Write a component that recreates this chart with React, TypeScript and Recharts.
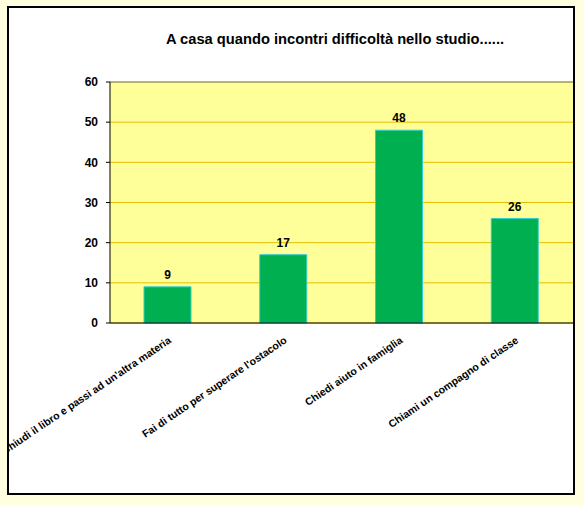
import React from 'react';
import { BarChart, Bar, XAxis, YAxis, CartesianGrid, LabelList, ReferenceLine } from 'recharts';

const title = 'A casa quando incontri difficoltà nello studio......';
const categories = [
  "Chiudi il libro e passi ad un'altra materia",
  "Fai di tutto per superare l'ostacolo",
  'Chiedi aiuto in famiglia',
  'Chiami un compagno di classe',
];
const values = [9, 17, 48, 26];
const yTicks = [0, 10, 20, 30, 40, 50, 60];
const edgeTicks = [0, 1, 2, 3, 4];

const data = categories.map((name, i) => ({ name, value: values[i] }));

const FONT = '"Liberation Sans", Arial, sans-serif';

const XTick = (props: any) => {
  const { x, y, payload } = props;
  return (
    <g transform={`translate(${x + 4},${y + 11}) rotate(-34)`}>
      <text x={0} y={0} textAnchor="end" fontSize={10.5} fontWeight="bold" fill="#000" fontFamily={FONT}>
        {payload.value}
      </text>
    </g>
  );
};

export default function App() {
  return (
    <div style={{ position: 'fixed', left: 0, top: 0, width: 584, height: 505, background: '#FFFFE0', overflow: 'hidden' }}>
      <div
        style={{
          position: 'absolute',
          left: 7,
          top: 6,
          width: 568,
          height: 489,
          boxSizing: 'border-box',
          border: '2px solid #000',
          background: '#FFFFFF',
          overflow: 'hidden',
        }}
      >
        <div
          style={{
            position: 'absolute',
            left: 126,
            width: 400,
            top: 23,
            textAlign: 'center',
            fontFamily: FONT,
            fontWeight: 'bold',
            fontSize: 14.7,
            color: '#000',
          }}
        >
          {title}
        </div>
        <BarChart
          width={564}
          height={485}
          data={data}
          margin={{ top: 74, right: 0, left: 0, bottom: 0 }}
          style={{ position: 'absolute', left: 0, top: 0 }}
        >
          <CartesianGrid xAxisId="cat" vertical={false} stroke="#E6BE00" fill="#FFFF99" fillOpacity={1} />
          <XAxis
            xAxisId="edges"
            type="number"
            domain={[0, 4]}
            ticks={edgeTicks}
            tick={false}
            tickLine={{ stroke: '#000' }}
            tickSize={5}
            axisLine={false}
            height={0}
            allowDataOverflow
          />
          <XAxis
            xAxisId="cat"
            dataKey="name"
            interval={0}
            height={170}
            axisLine={{ stroke: '#000', strokeWidth: 1 }}
            tickLine={false}
            tick={<XTick />}
          />
          <YAxis
            domain={[0, 60]}
            ticks={yTicks}
            width={101}
            interval={0}
            tickSize={4}
            tickMargin={8}
            tickLine={{ stroke: '#000' }}
            axisLine={{ stroke: '#000' }}
            tick={{ fontSize: 12, fontWeight: 'bold', fill: '#000', fontFamily: FONT }}
          />
          <ReferenceLine xAxisId="cat" y={60} stroke="#808080" strokeWidth={1} />
          <Bar xAxisId="cat" dataKey="value" fill="#00B050" stroke="#33CCCC" strokeWidth={1} barSize={47} isAnimationActive={false}>
            <LabelList dataKey="value" position="top" offset={8} fontSize={12} fontWeight="bold" fill="#000" fontFamily={FONT} />
          </Bar>
        </BarChart>
      </div>
    </div>
  );
}
